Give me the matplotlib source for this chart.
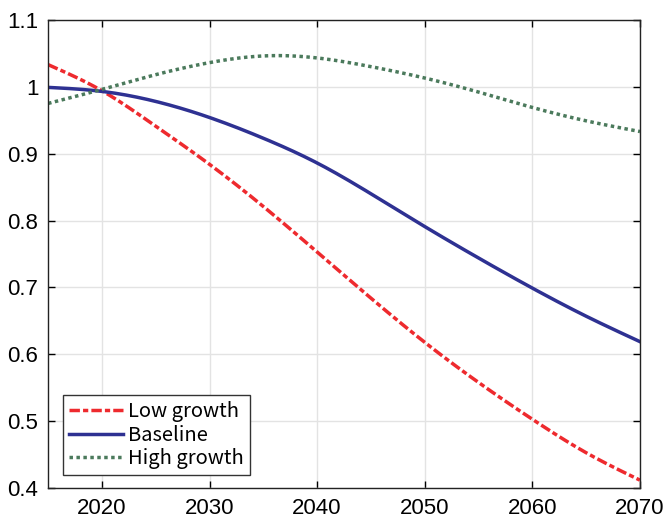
import numpy as np
import matplotlib
matplotlib.use("Agg")
import matplotlib.pyplot as plt

plt.rcParams['font.family'] = ['Liberation Sans', 'DejaVu Sans']

years = [2015, 2020, 2025, 2030, 2035, 2040, 2045, 2050, 2055, 2060, 2065, 2070]
low_growth = [1.033, 0.994, 0.941, 0.884, 0.821, 0.753, 0.684, 0.618, 0.558, 0.503, 0.453, 0.412]
baseline = [0.999, 0.993, 0.978, 0.954, 0.923, 0.886, 0.840, 0.791, 0.744, 0.699, 0.657, 0.619]
high_growth = [0.975, 0.996, 1.018, 1.036, 1.046, 1.043, 1.030, 1.013, 0.992, 0.969, 0.949, 0.933]

x_ticks = [2020, 2030, 2040, 2050, 2060, 2070]
y_ticks = [0.4, 0.5, 0.6, 0.7, 0.8, 0.9, 1.0, 1.1]
y_labels = ['0.4', '0.5', '0.6', '0.7', '0.8', '0.9', '1', '1.1']


def spline_path(xs, ys, per_seg=20):
    """Natural cubic spline through every (x, y) point, for a smooth line."""
    x = np.asarray(xs, float)
    y = np.asarray(ys, float)
    n = len(x)
    h = np.diff(x)
    A = np.zeros((n, n))
    b = np.zeros(n)
    A[0, 0] = A[-1, -1] = 1.0
    for i in range(1, n - 1):
        A[i, i - 1] = h[i - 1]
        A[i, i] = 2 * (h[i - 1] + h[i])
        A[i, i + 1] = h[i]
        b[i] = 3 * ((y[i + 1] - y[i]) / h[i] - (y[i] - y[i - 1]) / h[i - 1])
    c = np.linalg.solve(A, b)
    px, py = [], []
    for i in range(n - 1):
        t = np.linspace(0, h[i], per_seg, endpoint=(i == n - 2))
        bi = (y[i + 1] - y[i]) / h[i] - h[i] * (2 * c[i] + c[i + 1]) / 3
        di = (c[i + 1] - c[i]) / (3 * h[i])
        px.append(x[i] + t)
        py.append(y[i] + bi * t + c[i] * t ** 2 + di * t ** 3)
    return np.concatenate(px), np.concatenate(py)


fig = plt.figure(figsize=(6.68, 5.21), dpi=100)
ax = fig.add_axes([0.072, 0.063, 0.886, 0.899])

red = '#ee2a2e'
blue = '#2e3192'
green = '#4b7a5c'

ax.plot(*spline_path(years, low_growth), color=red, lw=2.5,
        linestyle=(0, (3.0, 0.9, 1.5, 0.9)), label='Low growth')
ax.plot(*spline_path(years, baseline), color=blue, lw=2.5, linestyle='-', label='Baseline')
ax.plot(*spline_path(years, high_growth), color=green, lw=2.5,
        linestyle=(0, (1.0, 1.0)), label='High growth')

ax.set_xlim(2015, 2070)
ax.set_ylim(0.4, 1.1)
ax.set_xticks(x_ticks)
ax.set_yticks(y_ticks)
ax.set_yticklabels(y_labels)
ax.grid(True, color='#e3e3e3', lw=1)
ax.set_axisbelow(True)
ax.tick_params(direction='in', top=True, right=True, labelsize=16, length=5, width=1, pad=7)
for s in ax.spines.values():
    s.set_linewidth(1)
    s.set_color('#222222')

leg = ax.legend(loc='lower left', bbox_to_anchor=(0.025, 0.028),
                prop={'family': ['Noto Sans CJK JP', 'DejaVu Sans'], 'size': 14.5},
                frameon=True, fancybox=False, edgecolor='#333333', handlelength=2.7,
                handletextpad=0.25, borderpad=0.3, labelspacing=0.12, borderaxespad=0.0,
                framealpha=1)
leg.get_frame().set_linewidth(1)

fig.savefig('out.png', dpi=100)
